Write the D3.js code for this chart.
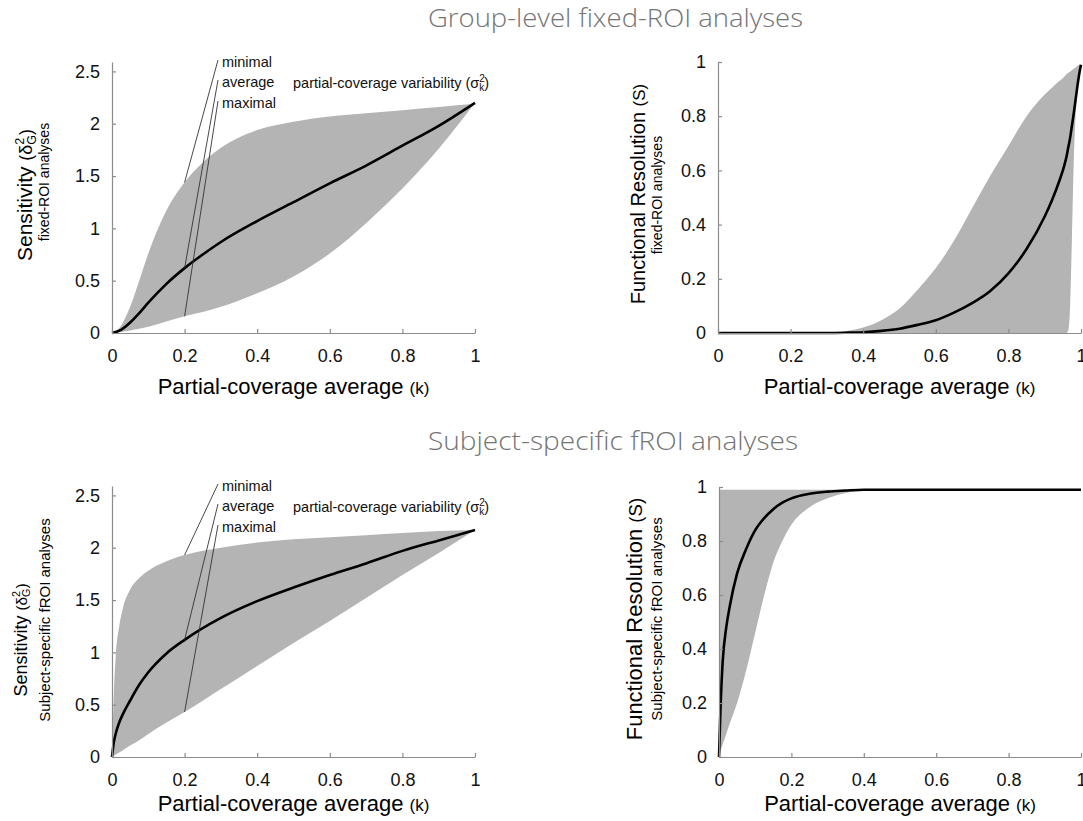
<!DOCTYPE html>
<meta charset="utf-8">
<style>
body{ margin:0; background:#fff; }
svg text{ font-family:"Liberation Sans", Arial, sans-serif; }
.axis path, .axis line{ stroke:#8c8c8c; stroke-width:1.2; }
.axis text{ font-size:18px; fill:#111; font-family:"Liberation Sans", Arial, sans-serif; }
.band{ fill:#b4b4b4; }
.mean{ fill:none; stroke:#000; stroke-width:2.6; }
.section{ font-family:"Open Sans", sans-serif; font-weight:300; font-size:25px; fill:#747474; }
.lead{ stroke:#333; stroke-width:0.9; }
.note{ font-size:14.5px; fill:#111; }
</style>
<body>
<script src="https://cdn.jsdelivr.net/npm/d3@7"></script>
<script>

// ticks
var kTicks = [0, 0.2, 0.4, 0.6, 0.8, 1],
    sensTicks = [0, 0.5, 1, 1.5, 2, 2.5],
    resTicks = [0, 0.2, 0.4, 0.6, 0.8, 1]

// group-level fixed-ROI, sensitivity
var gsK    = [0, 0.025, 0.05, 0.075, 0.1, 0.15, 0.2, 0.25, 0.3, 0.4, 0.5, 0.6, 0.7, 0.8, 0.9, 1]
var gsHi   = [0, 0.07, 0.25, 0.5, 0.76, 1.17, 1.44, 1.63, 1.77, 1.94, 2.02, 2.07, 2.1, 2.13, 2.16, 2.19]
var gsMean = [0, 0.03, 0.1, 0.19, 0.29, 0.47, 0.62, 0.75, 0.87, 1.07, 1.25, 1.43, 1.6, 1.79, 1.98, 2.2]
var gsLo   = [0, 0.01, 0.025, 0.04, 0.06, 0.11, 0.16, 0.2, 0.25, 0.38, 0.54, 0.76, 1.05, 1.38, 1.76, 2.2]

// group-level fixed-ROI, functional resolution
var grK    = [0, 0.3, 0.35, 0.4, 0.45, 0.5, 0.55, 0.6, 0.65, 0.7, 0.75, 0.8, 0.85, 0.9, 0.92, 0.94, 0.95, 0.96, 0.965, 0.97, 0.975, 0.98, 0.985, 0.99, 0.995, 1]
var grHi   = [0, 0, 0.006, 0.02, 0.047, 0.09, 0.16, 0.24, 0.34, 0.46, 0.58, 0.69, 0.8, 0.88, 0.905, 0.93, 0.94, 0.955, 0.96, 0.965, 0.97, 0.975, 0.98, 0.985, 0.99, 0.99]
var grMean = [0, 0, 0.001, 0.003, 0.008, 0.016, 0.03, 0.047, 0.075, 0.11, 0.155, 0.22, 0.31, 0.43, 0.49, 0.56, 0.6, 0.65, 0.685, 0.72, 0.765, 0.81, 0.86, 0.91, 0.955, 0.99]
var grLo   = [0, 0, 0, 0, 0, 0, 0, 0, 0, 0, 0, 0, 0, 0, 0, 0, 0, 0, 0.01, 0.1, 0.35, 0.63, 0.8, 0.89, 0.945, 0.99]

// subject-specific fROI, sensitivity
var ssK    = [0, 0.005, 0.01, 0.02, 0.03, 0.05, 0.075, 0.1, 0.15, 0.2, 0.3, 0.4, 0.5, 0.6, 0.7, 0.8, 0.9, 1]
var ssHi   = [0, 0.6, 0.95, 1.25, 1.42, 1.6, 1.71, 1.78, 1.87, 1.93, 2.0, 2.05, 2.08, 2.1, 2.12, 2.14, 2.16, 2.17]
var ssMean = [0, 0.14, 0.22, 0.33, 0.41, 0.54, 0.69, 0.81, 0.99, 1.12, 1.33, 1.49, 1.62, 1.74, 1.85, 1.97, 2.07, 2.17]
var ssLo   = [0, 0.011, 0.022, 0.043, 0.065, 0.11, 0.16, 0.22, 0.33, 0.43, 0.65, 0.87, 1.09, 1.3, 1.52, 1.74, 1.95, 2.17]

// subject-specific fROI, functional resolution
var srK    = [0, 0.003, 0.005, 0.01, 0.02, 0.03, 0.05, 0.075, 0.1, 0.125, 0.15, 0.175, 0.2, 0.25, 0.3, 0.35, 0.4, 0.45, 0.5, 1]
var srHi   = [0, 0.99, 0.99, 0.99, 0.99, 0.99, 0.99, 0.99, 0.99, 0.99, 0.99, 0.99, 0.99, 0.99, 0.99, 0.99, 0.99, 0.99, 0.99, 0.99]
var srMean = [0, 0.13, 0.21, 0.35, 0.48, 0.56, 0.68, 0.77, 0.84, 0.885, 0.918, 0.942, 0.958, 0.975, 0.983, 0.987, 0.99, 0.99, 0.99, 0.99]
var srLo   = [0, 0.015, 0.025, 0.045, 0.085, 0.125, 0.2, 0.32, 0.46, 0.6, 0.72, 0.8, 0.86, 0.925, 0.958, 0.978, 0.987, 0.99, 0.99, 0.99]

var svg = d3.select('body').append('svg')
    .attr('width', 1083).attr('height', 821)

var fmt = function(d){ return String(d) }

function panel(o){
  var x = d3.scaleLinear().domain([0, 1]).range([o.left, o.right])
  var y = d3.scaleLinear().domain([0, o.yMax]).range([o.bottom, o.top])
  var g = svg.append('g')
  var pts = o.k.map(function(k, i){ return {k: k, lo: o.lo[i], m: o.mean[i], hi: o.hi[i]} })

  g.append('path').datum(pts).attr('class', 'band')
    .attr('d', d3.area().curve(d3.curveMonotoneX)
      .x(function(d){ return x(d.k) })
      .y0(function(d){ return y(d.lo) })
      .y1(function(d){ return y(d.hi) }))

  g.append('path').datum(pts).attr('class', 'mean')
    .attr('d', d3.line().curve(d3.curveMonotoneX)
      .x(function(d){ return x(d.k) })
      .y(function(d){ return y(d.m) }))

  g.append('g').attr('class', 'axis')
    .attr('transform', 'translate(0,' + o.bottom + ')')
    .call(d3.axisBottom(x).tickValues(kTicks).tickFormat(fmt)
      .tickSizeInner(-4).tickSizeOuter(0).tickPadding(16))
  g.append('g').attr('class', 'axis')
    .attr('transform', 'translate(' + o.left + ',0)')
    .call(d3.axisLeft(y).tickValues(o.yTicks).tickFormat(fmt)
      .tickSizeInner(-4).tickSizeOuter(0).tickPadding(12))
  g.selectAll('.axis .domain').attr('fill', 'none')

  var xt = g.append('text').attr('text-anchor', 'middle')
    .attr('x', (o.left + o.right) / 2).attr('y', o.xTitleY)
  xt.append('tspan').style('font-size', '22px').text('Partial-coverage average ')
  xt.append('tspan').style('font-size', '17px').text('(k)')

  if (o.notes){
    var i2 = o.k.indexOf(0.2)
    var notes = [['minimal', o.hi[i2], 5], ['average', o.mean[i2], 25], ['maximal', o.lo[i2], 46]]
    notes.forEach(function(n){
      g.append('line').attr('class', 'lead')
        .attr('x1', 218).attr('y1', o.top + n[2] - 7)
        .attr('x2', x(0.2)).attr('y2', y(n[1]))
      g.append('text').attr('class', 'note')
        .attr('x', 222).attr('y', o.top + n[2]).text(n[0])
    })
    var pv = g.append('text').attr('class', 'note').attr('x', 293).attr('y', o.top + 26)
    pv.append('tspan').text('partial-coverage variability (σ')
    pv.append('tspan').style('font-size', '10px').attr('dy', -6).text('2')
    pv.append('tspan').style('font-size', '10px').attr('dx', -5.5).attr('dy', 9).text('k')
    pv.append('tspan').attr('dy', -3).text(')')
  }
  return g
}

function sensLabel(cx, cy, size, sub, subX, subY, subSize){
  var t = svg.append('text').attr('text-anchor', 'middle')
    .attr('transform', 'translate(' + cx + ',' + cy + ') rotate(-90)')
  t.append('tspan').style('font-size', size + 'px').text('Sensitivity ')
  t.append('tspan').style('font-size', size * 0.85 + 'px').text('(δ')
  t.append('tspan').style('font-size', size * 0.6 + 'px').attr('dy', -size * 0.38).text('2')
  t.append('tspan').style('font-size', size * 0.6 + 'px').attr('dx', -size * 0.33).attr('dy', size * 0.55).text('G')
  t.append('tspan').style('font-size', size * 0.85 + 'px').attr('dy', -size * 0.17).text(')')
  svg.append('text').attr('text-anchor', 'middle').style('font-size', subSize + 'px')
    .attr('transform', 'translate(' + subX + ',' + subY + ') rotate(-90)').text(sub)
}

function resLabel(cx, cy, size, sub, subX, subY, subSize){
  var t = svg.append('text').attr('text-anchor', 'middle')
    .attr('transform', 'translate(' + cx + ',' + cy + ') rotate(-90)')
  t.append('tspan').style('font-size', size + 'px').text('Functional Resolution ')
  t.append('tspan').style('font-size', size * 0.85 + 'px').text('(S)')
  svg.append('text').attr('text-anchor', 'middle').style('font-size', subSize + 'px')
    .attr('transform', 'translate(' + subX + ',' + subY + ') rotate(-90)').text(sub)
}

// section titles
svg.append('text').attr('class', 'section').attr('x', 428).attr('y', 27)
  .attr('textLength', 375).attr('lengthAdjust', 'spacingAndGlyphs')
  .text('Group-level fixed-ROI analyses')
svg.append('text').attr('class', 'section').attr('x', 428).attr('y', 450)
  .attr('textLength', 370).attr('lengthAdjust', 'spacingAndGlyphs')
  .text('Subject-specific fROI analyses')

panel({left: 112, right: 475, bottom: 333, top: 62, yMax: 2.59, yTicks: sensTicks,
       k: gsK, lo: gsLo, mean: gsMean, hi: gsHi, xTitleY: 394, notes: true})
panel({left: 718, right: 1081, bottom: 333, top: 62, yMax: 1, yTicks: resTicks,
       k: grK, lo: grLo, mean: grMean, hi: grHi, xTitleY: 394})
panel({left: 112, right: 475, bottom: 757, top: 486, yMax: 2.59, yTicks: sensTicks,
       k: ssK, lo: ssLo, mean: ssMean, hi: ssHi, xTitleY: 811, notes: true})
panel({left: 719, right: 1081, bottom: 757, top: 487, yMax: 1, yTicks: resTicks,
       k: srK, lo: srLo, mean: srMean, hi: srHi, xTitleY: 811})

sensLabel(32, 195, 21, 'fixed-ROI analyses', 49, 182, 14)
resLabel(645, 194, 20, 'fixed-ROI analyses', 662, 195, 14)
sensLabel(27, 640, 18, 'Subject-specific fROI analyses', 50, 620, 15)
resLabel(642, 619, 22, 'Subject-specific fROI analyses', 662, 619, 15)

</script>
